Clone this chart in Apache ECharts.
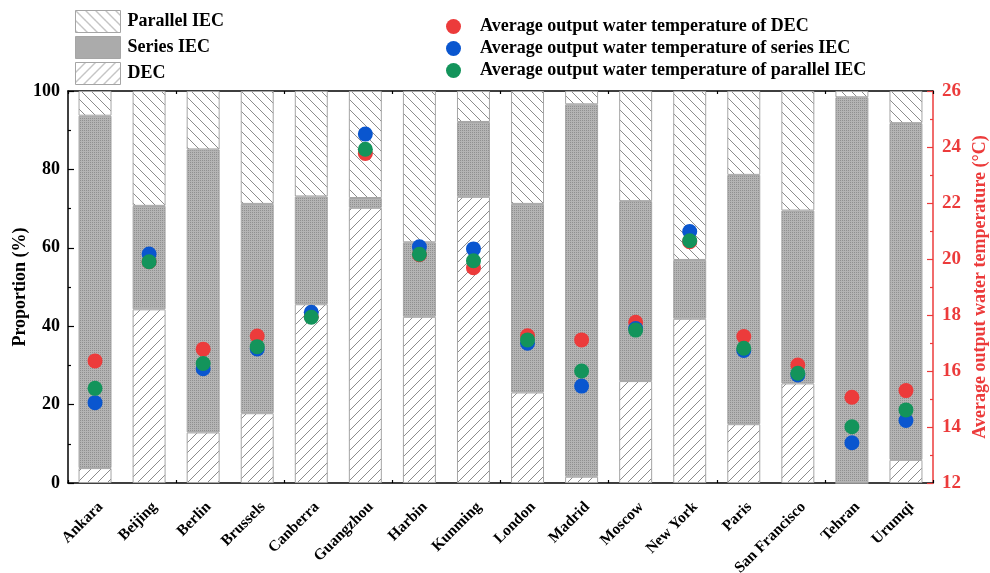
<!DOCTYPE html>
<html>
<head>
<meta charset="utf-8">
<script src="https://cdn.jsdelivr.net/npm/echarts@6/dist/echarts.min.js"></script>
<style>html,body{margin:0;padding:0;background:#fff}#c{width:990px;height:573px}</style>
</head>
<body>
<div id="c"></div>
<script>
const categories = ['Ankara','Beijing','Berlin','Brussels','Canberra','Guangzhou','Harbin','Kunming','London','Madrid','Moscow','New York','Paris','San Francisco','Tehran','Urumqi'];
const decShare      = [3.8, 44.3, 12.9, 17.8, 45.6, 70.2, 42.4, 73.0, 23.1, 1.6, 26.0, 41.9, 15.0, 25.4, 0.0, 5.9];
const seriesShare   = [89.9, 26.4, 72.2, 53.4, 27.5, 2.5, 19.0, 19.1, 48.1, 95.0, 45.9, 15.0, 63.6, 44.1, 98.4, 85.9];
const parallelShare = [6.3, 29.3, 14.9, 28.8, 26.9, 27.3, 38.6, 7.9, 28.8, 3.4, 28.1, 43.1, 21.4, 30.5, 1.6, 8.2];
const tempDEC      = [16.36, 19.90, 16.78, 17.25, 17.95, 23.77, 20.15, 19.69, 17.26, 17.11, 17.74, 20.62, 17.23, 16.21, 15.06, 15.30];
const tempSeries   = [14.87, 20.18, 16.08, 16.79, 18.10, 24.46, 20.44, 20.36, 16.99, 15.46, 17.52, 20.98, 16.73, 15.86, 13.44, 14.23];
const tempParallel = [15.38, 19.90, 16.27, 16.87, 17.92, 23.92, 20.17, 19.94, 17.11, 16.00, 17.46, 20.65, 16.81, 15.92, 14.01, 14.61];

const FONT = '"Liberation Serif", "Times New Roman", serif';
const RED = '#ec3b3b';

function hatch(dir) {
  const s = 10, c = document.createElement('canvas');
  c.width = s; c.height = s;
  const g = c.getContext('2d');
  g.fillStyle = '#fff'; g.fillRect(0, 0, s, s);
  g.fillStyle = '#8c8c8c';
  for (let i = 0; i < s; i++) {
    if (dir === 'back') g.fillRect(i, i, 1, 1);
    else g.fillRect(i, s - 1 - i, 1, 1);
  }
  return { image: c, repeat: 'repeat' };
}
function dots() {
  const c = document.createElement('canvas');
  c.width = 2; c.height = 2;
  const g = c.getContext('2d');
  g.fillStyle = '#b4b4b4'; g.fillRect(0, 0, 2, 2);
  g.fillStyle = '#909090'; g.fillRect(0, 0, 1, 1);
  return { image: c, repeat: 'repeat' };
}

const chart = echarts.init(document.getElementById('c'), null, { renderer: 'canvas' });

const barStyle = (fill) => ({ color: fill, borderColor: '#a5a5a5', borderWidth: 1 });
const labelFont = { fontFamily: FONT, fontWeight: 'bold', color: '#000' };

const xBase = { type: 'category', data: categories, boundaryGap: true };

chart.setOption({
  animation: false,
  backgroundColor: '#fff',
  grid: { left: 68, right: 57, top: 91, bottom: 90, containLabel: false, outerBoundsMode: 'none' },
  legend: [
    {
      data: ['Parallel IEC', 'Series IEC', 'DEC'],
      orient: 'vertical', left: 75, top: 10, padding: 0,
      icon: 'rect',
      itemWidth: 45, itemHeight: 22, itemGap: 3,
      itemStyle: { borderColor: '#a5a5a5', borderWidth: 1 },
      textStyle: { fontFamily: FONT, fontWeight: 'bold', fontSize: 18, color: '#000', padding: [0, 0, 0, 2], lineHeight: 22 }
    },
    {
      data: ['Average output water temperature of DEC', 'Average output water temperature of series IEC', 'Average output water temperature of parallel IEC'],
      orient: 'vertical', left: 446, top: 17, padding: 0,
      icon: 'circle', itemWidth: 15, itemHeight: 15, itemGap: 3,
      textStyle: { fontFamily: FONT, fontWeight: 'bold', fontSize: 18, color: '#000', padding: [0, 0, 0, 14], lineHeight: 19 }
    }
  ],
  xAxis: [
    Object.assign({}, xBase, {
      position: 'bottom',
      axisLine: { show: true, lineStyle: { color: '#000', width: 1.5 } },
      axisTick: { show: true, inside: true, alignWithLabel: true, length: 6, lineStyle: { color: '#000', width: 1.2 } },
      axisLabel: { interval: 0, rotate: 45, margin: 16, verticalAlign: 'top', fontFamily: FONT, fontWeight: 'bold', fontSize: 15.5, color: '#000' },
      splitLine: { show: false }
    }),
    Object.assign({}, xBase, {
      position: 'bottom',
      axisLine: { show: false },
      axisTick: { show: true, inside: true, alignWithLabel: false, length: 3, lineStyle: { color: '#000', width: 1.2 } },
      axisLabel: { show: false }, splitLine: { show: false }
    }),
    Object.assign({}, xBase, {
      position: 'top',
      axisLine: { show: true, lineStyle: { color: '#000', width: 1.5 } },
      axisTick: { show: true, inside: true, alignWithLabel: true, length: 6, lineStyle: { color: '#000', width: 1.2 } },
      axisLabel: { show: false }, splitLine: { show: false }
    }),
    Object.assign({}, xBase, {
      position: 'top',
      axisLine: { show: false },
      axisTick: { show: true, inside: true, alignWithLabel: false, length: 3, lineStyle: { color: '#000', width: 1.2 } },
      axisLabel: { show: false }, splitLine: { show: false }
    })
  ],
  yAxis: [
    {
      type: 'value', position: 'left', min: 0, max: 100, interval: 20,
      name: 'Proportion (%)', nameLocation: 'middle', nameGap: 39, nameMoveOverlap: false,
      nameTextStyle: { fontFamily: FONT, fontWeight: 'bold', fontSize: 18, color: '#000' },
      axisLine: { show: true, lineStyle: { color: '#000', width: 1.5 } },
      axisTick: { show: true, inside: true, length: 6, lineStyle: { color: '#000', width: 1.2 } },
      minorTick: { show: true, splitNumber: 2, length: 3, lineStyle: { color: '#000', width: 1.2 } },
      axisLabel: Object.assign({ fontSize: 18, margin: 8 }, labelFont),
      splitLine: { show: false }
    },
    {
      type: 'value', position: 'right', min: 12, max: 26, interval: 2,
      name: 'Average output water temperature (°C)', nameLocation: 'middle', nameGap: 38, nameRotate: 90, nameMoveOverlap: false,
      nameTextStyle: { fontFamily: FONT, fontWeight: 'bold', fontSize: 18, color: RED },
      axisLine: { show: true, lineStyle: { color: RED, width: 1.5 } },
      axisTick: { show: true, inside: true, length: 6, lineStyle: { color: RED, width: 1.2 } },
      minorTick: { show: true, splitNumber: 2, length: 3, lineStyle: { color: RED, width: 1.2 } },
      axisLabel: { fontFamily: FONT, fontWeight: 'bold', fontSize: 19, color: RED, margin: 9 },
      splitLine: { show: false }
    }
  ],
  series: [
    { name: 'DEC', type: 'bar', stack: 'share', xAxisIndex: 0, yAxisIndex: 0, barWidth: '61%', data: decShare, itemStyle: barStyle(hatch('fwd')) },
    { name: 'Series IEC', type: 'bar', stack: 'share', xAxisIndex: 0, yAxisIndex: 0, barWidth: '61%', data: seriesShare, itemStyle: barStyle(dots()) },
    { name: 'Parallel IEC', type: 'bar', stack: 'share', xAxisIndex: 0, yAxisIndex: 0, barWidth: '61%', data: parallelShare, itemStyle: barStyle(hatch('back')) },
    { name: 'Average output water temperature of DEC', type: 'scatter', xAxisIndex: 0, yAxisIndex: 1, symbolSize: 15, data: tempDEC, itemStyle: { color: RED, opacity: 1 }, z: 5 },
    { name: 'Average output water temperature of series IEC', type: 'scatter', xAxisIndex: 0, yAxisIndex: 1, symbolSize: 15, data: tempSeries, itemStyle: { color: '#0a56cf', opacity: 1 }, z: 6 },
    { name: 'Average output water temperature of parallel IEC', type: 'scatter', xAxisIndex: 0, yAxisIndex: 1, symbolSize: 15, data: tempParallel, itemStyle: { color: '#13945b', opacity: 1 }, z: 7 }
  ]
});
</script>
</body>
</html>
